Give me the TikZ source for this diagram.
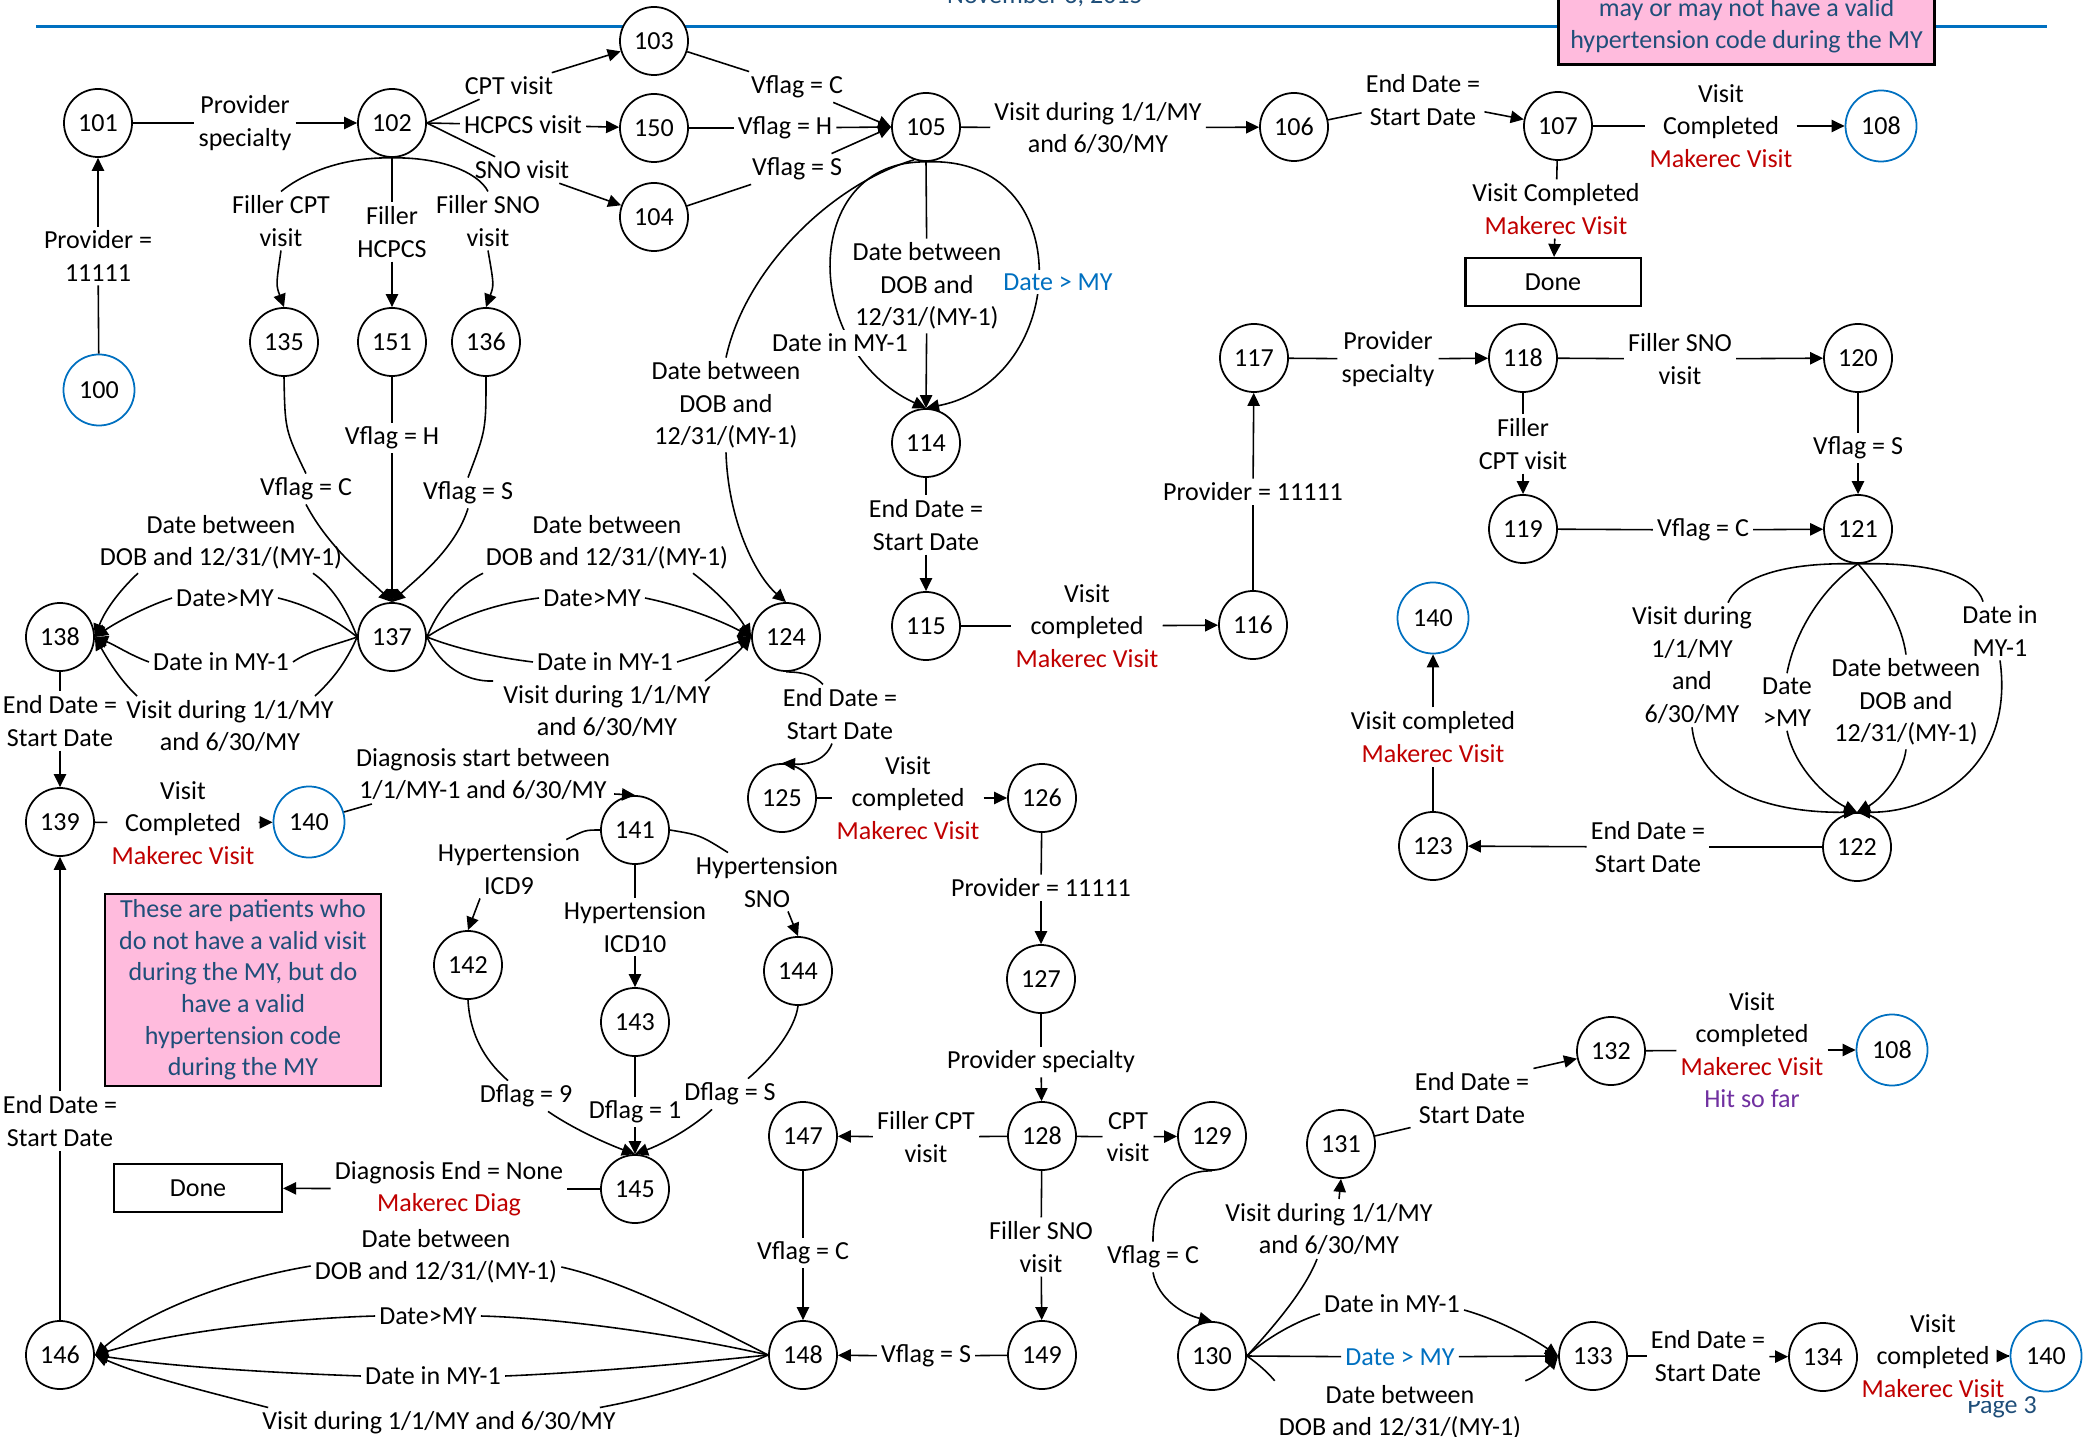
\documentclass[tikz,border=0pt]{standalone}
\usepackage{fontspec}
\setmainfont{Carlito}
\usetikzlibrary{arrows.meta,calc}
\definecolor{cblue}{RGB}{0,112,192}
\definecolor{cred}{RGB}{192,0,0}
\definecolor{cpurp}{RGB}{112,48,160}
\definecolor{cpink}{RGB}{255,187,221}
\definecolor{cnavy}{RGB}{31,78,121}
\newcommand{\lblfont}{\fontsize{7.4pt}{9.2pt}\selectfont}
\newcommand{\notefont}{\fontsize{7.4pt}{9pt}\selectfont}
\begin{document}
\begin{tikzpicture}[x=0.01cm,y=-0.01cm,
  st/.style={circle,draw,line width=0.5pt,fill=white,minimum size=0.68cm,inner sep=0pt,font=\lblfont},
  fst/.style={st,draw=cblue,minimum size=0.71cm},
  lb/.style={align=center,inner sep=1pt,font=\lblfont},
  ar/.style={line width=0.45pt,-{Triangle[length=3.7pt,width=3.5pt]}},
  ln/.style={line width=0.45pt},
  donebox/.style={draw,line width=0.6pt,fill=white,minimum height=0.48cm,font=\lblfont},
  note/.style={draw,line width=0.8pt,fill=cpink,text=cnavy,align=center,font=\notefont}
]
\useasboundingbox (0,0) rectangle (2091,1437);
\clip (0,0) rectangle (2091,1437);

% header
\draw[cblue,line width=0.85pt] (36,27) -- (2047,27);
\node[font=\lblfont,text=cnavy,anchor=base] (hdr) at (1045,4) {November 3, 2015};
\node[font=\lblfont,text=cnavy] (page) at (2002,1407) {Page 3};

% notes
\node[note,minimum width=3.69cm,anchor=south] (noteB) at (1746.5,66) {may or may not have a valid\\hypertension code during the MY};
\node[note,minimum width=2.76cm,minimum height=1.92cm,inner sep=0.5pt] (noteA) at (243,990) {These are patients who\\do not have a valid visit\\during the MY, but do\\have a valid\\hypertension code\\during the MY};

% states
\node[fst] (n100) at (99,390) {100};
\node[st] (n101) at (98,123) {101};
\node[st] (n102) at (392,123) {102};
\node[st] (n103) at (654,41) {103};
\node[st] (n150) at (654,128) {150};
\node[st] (n104) at (654,217) {104};
\node[st] (n105) at (926,127) {105};
\node[st] (n106) at (1294,127) {106};
\node[st] (n107) at (1558,126) {107};
\node[fst] (n108a) at (1881,126) {108};
\node[donebox,minimum width=1.75cm] (done1) at (1553,282) {Done};
\node[st] (n135) at (284,342) {135};
\node[st] (n151) at (392,342) {151};
\node[st] (n136) at (486,342) {136};
\node[st] (n114) at (926,443) {114};
\node[st] (n117) at (1254,358) {117};
\node[st] (n118) at (1523,358) {118};
\node[st] (n120) at (1858,358) {120};
\node[st] (n119) at (1523,529) {119};
\node[st] (n121) at (1858,529) {121};
\node[st] (n137) at (392,637) {137};
\node[st] (n138) at (60,637) {138};
\node[st] (n124) at (786,637) {124};
\node[st] (n115) at (926,626) {115};
\node[st] (n116) at (1253,625) {116};
\node[fst] (n140b) at (1433,618) {140};
\node[st] (n122) at (1857,847) {122};
\node[st] (n123) at (1433,846) {123};
\node[st] (n139) at (60,822) {139};
\node[fst] (n140a) at (309,822) {140};
\node[st] (n125) at (782,798) {125};
\node[st] (n126) at (1042,798) {126};
\node[st] (n141) at (635,830) {141};
\node[st] (n142) at (468,965) {142};
\node[st] (n143) at (635,1022) {143};
\node[st] (n144) at (798,971) {144};
\node[st] (n127) at (1041,979) {127};
\node[st] (n128) at (1042,1136) {128};
\node[st] (n147) at (803,1136) {147};
\node[st] (n129) at (1212,1136) {129};
\node[st] (n131) at (1341,1144) {131};
\node[st] (n132) at (1611,1051) {132};
\node[fst] (n108b) at (1892,1050) {108};
\node[st] (n145) at (635,1189) {145};
\node[donebox,minimum width=1.68cm] (done2) at (198,1188) {Done};
\node[st] (n146) at (60,1355) {146};
\node[st] (n148) at (803,1355) {148};
\node[st] (n149) at (1042,1355) {149};
\node[st] (n130) at (1212,1356) {130};
\node[st] (n133) at (1593,1356) {133};
\node[st] (n134) at (1823,1357) {134};
\node[fst] (n140c) at (2046,1356) {140};

% labels
\node[lb] (La) at (98,256) {Provider =\\11111};
\node[lb] (Lb) at (245,123) {Provider\\specialty};
\node[lb] (Lc) at (509,86) {CPT visit};
\node[lb] (Ld) at (523,125) {HCPCS visit};
\node[lb] (Lsno) at (522,170) {SNO visit};
\node[lb] (Lfc) at (281,221) {Filler CPT\\visit};
\node[lb] (Lfh) at (392,232) {Filler\\HCPCS};
\node[lb] (Lfs) at (488,221) {Filler SNO\\visit};
\node[lb] (Lvc) at (797,87) {Vflag = C};
\node[lb] (Lvh) at (785,128) {Vflag = H};
\node[lb] (Lvs) at (797,169) {Vflag = S};
\node[lb] (Lk) at (1098,128) {Visit during 1/1/MY\\and 6/30/MY};
\node[lb] (Ll) at (1423,100) {End Date =\\Start Date};
\node[lb] (Lm) at (1721,126) {Visit\\Completed\\\textcolor{cred}{Makerec Visit}};
\node[lb] (Ln) at (1556,209) {Visit Completed\\\textcolor{cred}{Makerec Visit}};
\node[lb] (Lo) at (927,286) {Date between\\DOB and\\12/31/(MY-1)};
\node[lb] (Lr) at (726,405) {Date between\\DOB and\\12/31/(MY-1)};
\node[lb] (Ls) at (926,525) {End Date =\\Start Date};
\node[lb] (Lt) at (1087,626) {Visit\\completed\\\textcolor{cred}{Makerec Visit}};
\node[lb] (Lu) at (1253,492) {Provider = 11111};
\node[lb] (Lv) at (1388,359) {Provider\\specialty};
\node[lb] (Lw) at (1680,359) {Filler SNO\\visit};
\node[lb] (Lx) at (1523,444) {Filler\\CPT visit};
\node[lb] (Ly) at (1703,530) {Vflag = C};
\node[lb] (Lz) at (1858,448) {Vflag = S};
\node[lb] (M1) at (1692,665) {Visit during\\1/1/MY\\and\\6/30/MY};
\node[lb] (M2) at (1787,702) {Date\\>MY};
\node[lb] (M3) at (1906,702) {Date between\\DOB and\\12/31/(MY-1)};
\node[lb] (M4) at (2000,631) {Date in\\MY-1};
\node[lb] (Ma) at (1648,847) {End Date =\\Start Date};
\node[lb] (Mb) at (1433,737) {Visit completed\\\textcolor{cred}{Makerec Visit}};
\node[lb] (Mc) at (306,489) {Vflag = C};
\node[lb] (Md) at (392,438) {Vflag = H};
\node[lb] (Me) at (468,493) {Vflag = S};
\node[lb] (Mf) at (221,542) {Date between\\DOB and 12/31/(MY-1)};
\node[lb] (Mg) at (225,598) {Date>MY};
\node[lb] (Mh) at (221,662) {Date in MY-1};
\node[lb] (Mi) at (230,726) {Visit during 1/1/MY\\and 6/30/MY};
\node[lb] (Mj) at (607,542) {Date between\\DOB and 12/31/(MY-1)};
\node[lb] (Mk) at (592,598) {Date>MY};
\node[lb] (Ml) at (605,662) {Date in MY-1};
\node[lb] (Mm) at (607,711) {Visit during 1/1/MY\\and 6/30/MY};
\node[lb] (Mn) at (60,721) {End Date =\\Start Date};
\node[lb] (Mo) at (183,823) {Visit\\Completed\\\textcolor{cred}{Makerec Visit}};
\node[lb] (Mp) at (483,774) {Diagnosis start between\\1/1/MY-1 and 6/30/MY};
\node[lb] (Mq) at (509,869) {Hypertension\\ICD9};
\node[lb] (Mr) at (635,927) {Hypertension\\ICD10};
\node[lb] (Ms) at (767,882) {Hypertension\\SNO};
\node[lb] (Mt) at (526,1096) {Dflag = 9};
\node[lb] (Mu) at (635,1112) {Dflag = 1};
\node[lb] (Mv) at (730,1094) {Dflag = S};
\node[lb] (Mw) at (449,1189) {Diagnosis End = None\\\textcolor{cred}{Makerec Diag}};
\node[lb] (Mx) at (60,1121) {End Date =\\Start Date};
\node[lb] (My) at (436,1256) {Date between\\DOB and 12/31/(MY-1)};
\node[lb] (Mz) at (428,1316) {Date>MY};
\node[lb] (Na) at (433,1376) {Date in MY-1};
\node[lb] (Nb) at (439,1423) {Visit during 1/1/MY and 6/30/MY};
\node[lb] (Nc) at (840,714) {End Date =\\Start Date};
\node[lb] (Nd) at (908,798) {Visit\\completed\\\textcolor{cred}{Makerec Visit}};
\node[lb] (Ne) at (1041,888) {Provider = 11111};
\node[lb] (Nf) at (1041,1062) {Provider specialty};
\node[lb] (Ng) at (926,1137) {Filler CPT\\visit};
\node[lb] (Nh) at (1128,1137) {CPT\\visit};
\node[lb] (Ni) at (1041,1247) {Filler SNO\\visit};
\node[lb] (Nj) at (803,1253) {Vflag = C};
\node[lb] (Nk) at (926,1356) {Vflag = S};
\node[lb] (Nl) at (1153,1257) {Vflag = C};
\node[lb] (Nm) at (1329,1229) {Visit during 1/1/MY\\and 6/30/MY};
\node[lb] (Nn) at (1392,1304) {Date in MY-1};
\node[lb,text=cblue] (No) at (1400,1357) {Date > MY};
\node[lb] (Np) at (1400,1412) {Date between\\DOB and 12/31/(MY-1)};
\node[lb] (Nq) at (1472,1098) {End Date =\\Start Date};
\node[lb] (Nr) at (1752,1050) {Visit\\completed\\\textcolor{cred}{Makerec Visit}\\\textcolor{cpurp}{Hit so far}};
\node[lb] (Ns) at (1708,1356) {End Date =\\Start Date};
\node[lb,fill=white] (Nt) at (1933,1356) {Visit\\completed\\\textcolor{cred}{Makerec Visit}};

% edges top-left
\draw[ln] (n100) -- (La); \draw[ar] (La) -- (n101);
\draw[ln] (n101) -- (Lb); \draw[ar] (Lb) -- (n102);
\draw[ln] (n102.east) -- (Lc); \draw[ar] (Lc) -- (n103);
\draw[ln] (n102.east) -- (Ld); \draw[ar] (Ld) -- (n150);
\draw[ln] (n102.east) -- (Lsno); \draw[ar] (Lsno) -- (n104);
\draw[ln] (n102.south) .. controls (345,157) and (305,172) .. (Lfc.north);
\draw[ar] (Lfc.south) .. controls (276,285) .. (n135.north);
\draw[ln] (n102.south) -- (Lfh); \draw[ar] (Lfh) -- (n151);
\draw[ln] (n102.south) .. controls (440,157) and (478,172) .. (Lfs.north);
\draw[ar] (Lfs.south) .. controls (494,285) .. (n136.north);
\draw[ln] (n103) -- (Lvc); \draw[ar] (Lvc) -- (n105.west);
\draw[ln] (n150) -- (Lvh); \draw[ar] (Lvh) -- (n105.west);
\draw[ln] (n104) -- (Lvs); \draw[ar] (Lvs) -- (n105.west);
\draw[ln] (n105) -- (Lk); \draw[ar] (Lk) -- (n106);
\draw[ln] (n106) -- (Ll); \draw[ar] (Ll) -- (n107);
\draw[ln] (n107) -- (Lm); \draw[ar] (Lm) -- (n108a);
\draw[ln] (n107) -- (Ln); \draw[ar] (Ln) -- (done1);
\draw[ln] (n105.south) -- (Lo); \draw[ar] (Lo) -- (n114.north);
\draw[ar] (n105.south) .. controls (800,160) and (800,350) .. (n114.north);
\draw[ar] (n105.south) .. controls (1080,155) and (1070,380) .. (n114.north);
\draw[ln] (n105.250) .. controls (830,185) and (745,270) .. (Lr.north);
\draw[ar] (Lr.south) .. controls (728,520) and (755,575) .. (n124.north);
\draw[ln] (n114) -- (Ls); \draw[ar] (Ls) -- (n115);
\draw[ln] (n115) -- (Lt); \draw[ar] (Lt) -- (n116);
\draw[ln] (n116) -- (Lu); \draw[ar] (Lu) -- (n117);
\draw[ln] (n117) -- (Lv); \draw[ar] (Lv) -- (n118);
\draw[ln] (n118) -- (Lw); \draw[ar] (Lw) -- (n120);
\draw[ln] (n118) -- (Lx); \draw[ar] (Lx) -- (n119);
\draw[ln] (n119) -- (Ly); \draw[ar] (Ly) -- (n121);
\draw[ln] (n120) -- (Lz); \draw[ar] (Lz) -- (n121);

% 121 -> 122
\draw[ln] (n121.south) .. controls (1790,562) and (1740,575) .. (M1.60);
\draw[ar] (M1.south) .. controls (1700,800) and (1790,813) .. (n122.north);
\draw[ln] (n121.south) .. controls (1825,585) and (1795,630) .. (M2.north);
\draw[ar] (M2.south) .. controls (1795,770) and (1830,800) .. (n122.north);
\draw[ln] (n121.south) .. controls (1885,595) and (1902,625) .. (M3.north);
\draw[ar] (M3.south) .. controls (1903,775) and (1880,800) .. (n122.north);
\draw[ln] (n121.south) .. controls (1930,562) and (1975,575) .. (M4.120);
\draw[ar] (M4.south) .. controls (2015,770) and (1930,813) .. (n122.north);
\draw[ln] (n122) -- (Ma); \draw[ar] (Ma) -- (n123);
\draw[ln] (n123) -- (Mb); \draw[ar] (Mb) -- (n140b);

% into 137
\draw[ln] (n135.south) .. controls (285,430) .. (Mc.north);
\draw[ar] (Mc.south) .. controls (330,550) and (370,580) .. (n137.north);
\draw[ln] (n151) -- (Md); \draw[ar] (Md) -- (n137.north);
\draw[ln] (n136.south) .. controls (486,430) .. (Me.north);
\draw[ar] (Me.south) .. controls (455,550) and (415,580) .. (n137.north);

% 137 -> 138
\draw[ln] (n137.west) .. controls (345,605) and (330,585) .. ($(Mf.south)+(92,0)$);
\draw[ar] ($(Mf.south)+(-83,0)$) .. controls (120,590) and (105,610) .. (n138.east);
\draw[ln] (n137.west) .. controls (330,615) and (300,603) .. (Mg.east);
\draw[ar] (Mg.west) .. controls (150,605) and (120,620) .. (n138.east);
\draw[ln] (n137.west) .. controls (335,645) and (310,650) .. (Mh.east);
\draw[ar] (Mh.west) .. controls (130,655) and (115,645) .. (n138.east);
\draw[ln] (n137.west) .. controls (345,665) and (330,682) .. ($(Mi.north)+(85,0)$);
\draw[ar] ($(Mi.north)+(-93,0)$) .. controls (120,680) and (108,660) .. (n138.east);

% 137 -> 124
\draw[ln] (n137.east) .. controls (440,605) and (460,585) .. ($(Mj.south)+(-124,0)$);
\draw[ar] ($(Mj.south)+(86,0)$) .. controls (715,590) and (735,610) .. (n124.west);
\draw[ln] (n137.east) .. controls (460,615) and (500,603) .. (Mk.west);
\draw[ar] (Mk.east) .. controls (680,605) and (720,620) .. (n124.west);
\draw[ln] (n137.east) .. controls (460,650) and (500,658) .. (Ml.west);
\draw[ar] (Ml.east) .. controls (700,655) and (730,645) .. (n124.west);
\draw[ln] (n137.east) .. controls (440,665) and (465,682) .. ($(Mm.north)+(-114,0)$);
\draw[ar] ($(Mm.north)+(98,0)$) .. controls (725,665) and (740,650) .. (n124.west);

% left column
\draw[ln] (n138) -- (Mn); \draw[ar] (Mn) -- (n139);
\draw[ln] (n139) -- (Mo); \draw[ar] (Mo) -- (n140a);
\draw[ln] (n140a) -- ($(Mp.south west)+(20,0)$);
\draw[ar] ($(Mp.south east)+(0,-10)$) -- (n141.north);
\draw[ln] (n141.west) .. controls (585,830) .. ($(Mq.north east)+(-18,0)$);
\draw[ar] ($(Mq.south)+(-29,0)$) -- (n142.north);
\draw[ln] (n141) -- (Mr); \draw[ar] (Mr) -- (n143);
\draw[ln] (n141.east) .. controls (700,835) .. ($(Ms.north)+(-39,0)$);
\draw[ar] ($(Ms.south)+(21,0)$) -- (n144.north);
\draw[ln] (n142.south) .. controls (470,1040) and (490,1065) .. ($(Mt.north)+(-18,0)$);
\draw[ar] ($(Mt.south)+(22,0)$) .. controls (575,1130) and (610,1145) .. (n145.north);
\draw[ln] (n143) -- (Mu); \draw[ar] (Mu) -- (n145);
\draw[ln] (n144.south) .. controls (795,1030) and (770,1060) .. ($(Mv.north)+(18,0)$);
\draw[ar] ($(Mv.south)+(-18,0)$) .. controls (690,1130) and (660,1145) .. (n145.north);
\draw[ln] (n145) -- (Mw); \draw[ar] (Mw) -- (done2);
\draw[ln] (n146) -- (Mx); \draw[ar] (Mx) -- (n139);

% 148 -> 146
\draw[ln] (n148.west) .. controls (700,1320) and (620,1280) .. ($(My.east)+(0,11)$);
\draw[ar] ($(My.west)+(0,10)$) .. controls (200,1285) and (130,1325) .. (n146.east);
\draw[ln] (n148.west) .. controls (680,1335) and (560,1318) .. (Mz.east);
\draw[ar] (Mz.west) .. controls (300,1318) and (180,1330) .. (n146.east);
\draw[ln] (n148.west) .. controls (700,1362) and (600,1372) .. (Na.east);
\draw[ar] (Na.west) .. controls (250,1372) and (160,1365) .. (n146.east);
\draw[ln] (n148.west) .. controls (700,1385) and (650,1398) .. ($(Nb.north east)+(-20,0)$);
\draw[ar] ($(Nb.north west)+(10,0)$) .. controls (200,1390) and (140,1375) .. (n146.east);

% middle column
\draw[ln] (n124.south) .. controls (805,672) and (815,676) .. ($(Nc.north)+(-17,0)$);
\draw[ar] ($(Nc.south)+(-8,0)$) .. controls (825,762) and (805,765) .. (n125.north);
\draw[ln] (n125) -- (Nd); \draw[ar] (Nd) -- (n126);
\draw[ln] (n126) -- (Ne); \draw[ar] (Ne) -- (n127);
\draw[ln] (n127) -- (Nf); \draw[ar] (Nf) -- (n128);
\draw[ln] (n128) -- (Ng); \draw[ar] (Ng) -- (n147);
\draw[ln] (n128) -- (Nh); \draw[ar] (Nh) -- (n129);
\draw[ln] (n128) -- (Ni); \draw[ar] (Ni) -- (n149);
\draw[ln] (n147) -- (Nj); \draw[ar] (Nj) -- (n148);
\draw[ln] (n149) -- (Nk); \draw[ar] (Nk) -- (n148);
\draw[ln] (n129.south) .. controls (1175,1170) and (1152,1200) .. (Nl.north);
\draw[ar] (Nl.south) .. controls (1158,1300) and (1185,1315) .. (n130.north);
\draw[ln] (n130.east) .. controls (1275,1325) and (1305,1290) .. ($(Nm.south)+(-12,0)$);
\draw[ar] ($(Nm.north)+(10,0)$) -- (n131.south);
\draw[ln] (n130.east) .. controls (1270,1335) and (1300,1320) .. ($(Nn.west)+(0,10)$);
\draw[ar] ($(Nn.east)+(0,6)$) .. controls (1500,1320) and (1535,1340) .. (n133.west);
\draw[ln] (n130.east) -- (No); \draw[ar] (No) -- (n133.west);
\draw[ln] (n130.east) .. controls (1260,1365) and (1270,1375) .. (Np.north west);
\draw[ar] (Np.north east) .. controls (1540,1375) and (1550,1365) .. (n133.west);
\draw[ln] (n131) -- (Nq.south west); \draw[ar] (Nq.north east) -- (n132);
\draw[ln] (n132) -- (Nr); \draw[ar] (Nr) -- (n108b);
\draw[ln] (n133) -- (Ns); \draw[ar] (Ns) -- (n134);
\draw[ln] (n134) -- (Nt); \draw[ar] (Nt) -- (n140c);

% labels sitting on curves
\node[lb,fill=white] (Lp) at (840,343) {Date in MY-1};
\node[lb,fill=white,text=cblue] (Lq) at (1058,282) {Date > MY};
\end{tikzpicture}
\end{document}
